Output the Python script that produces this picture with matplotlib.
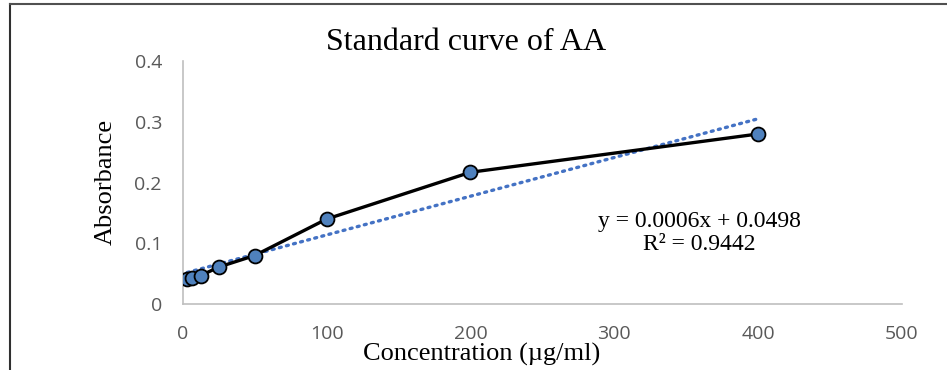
import numpy as np
import matplotlib
matplotlib.use('Agg')
import matplotlib.pyplot as plt
from matplotlib.lines import Line2D

# concentration (ug/ml) and absorbance
conc = [3.125, 6.25, 12.5, 25, 50, 100, 200, 400]
absorb = [0.041, 0.043, 0.047, 0.061, 0.080, 0.140, 0.217, 0.280]
x_ticks = [0, 100, 200, 300, 400, 500]
y_ticks = [0, 0.1, 0.2, 0.3, 0.4]
y_labels = ['0', '0.1', '0.2', '0.3', '0.4']
equation = 'y = 0.0006x + 0.0498\nR² = 0.9442'

serif = 'Liberation Serif'
tick_font = 'Open Sans'

fig = plt.figure(figsize=(9.47, 3.70), dpi=100)
ax = fig.add_axes([0.193, 0.178, 0.7595, 0.657])

# linear trendline over the data range
slope, intercept = np.polyfit(conc, absorb, 1)
tx = np.array([min(conc), max(conc)])
ax.plot(tx, slope * tx + intercept, color='#4472C4', lw=2.4,
        linestyle=(0, (0.6, 1.6)), dash_capstyle='round', zorder=2)

ax.plot(conc, absorb, color='black', lw=2.4, marker='o', markersize=10,
        markerfacecolor='#4F81BD', markeredgecolor='black',
        markeredgewidth=1.3, zorder=3)

ax.set_xlim(0, 500)
ax.set_ylim(0, 0.4)
ax.set_xticks(x_ticks)
ax.set_yticks(y_ticks)
ax.set_yticklabels(y_labels)
ax.tick_params(length=0, labelsize=14, labelcolor='#595959', pad=15)
for lab in ax.get_xticklabels() + ax.get_yticklabels():
    lab.set_fontfamily(tick_font)
for s in ['top', 'right']:
    ax.spines[s].set_visible(False)
for s in ['left', 'bottom']:
    ax.spines[s].set_color('#bfbfbf')
    ax.spines[s].set_linewidth(1.2)

fig.text(699 / 947, 1 - 233 / 370, equation, ha='center', va='center',
         fontsize=17, family=serif, linespacing=1.1)

fig.text(466 / 947, 1 - 42 / 370, 'Standard curve of AA', ha='center',
         va='center', fontsize=23, family=serif)
fig.text(482 / 947, 1 - 354 / 370, 'Concentration (µg/ml)', ha='center',
         va='center', fontsize=19, family=serif)
fig.text(106 / 947, 1 - 182 / 370, 'Absorbance', ha='center', va='center',
         fontsize=19, family=serif, rotation=90)

# outer chart border (left and top edges)
fig.add_artist(Line2D([9.5 / 947, 9.5 / 947], [0, 1 - 3.5 / 370],
                      transform=fig.transFigure, color='#303030', lw=1.5))
fig.add_artist(Line2D([9.5 / 947, 1], [1 - 3.5 / 370, 1 - 3.5 / 370],
                      transform=fig.transFigure, color='#505050', lw=1.5))

fig.savefig('out.png', dpi=100)
